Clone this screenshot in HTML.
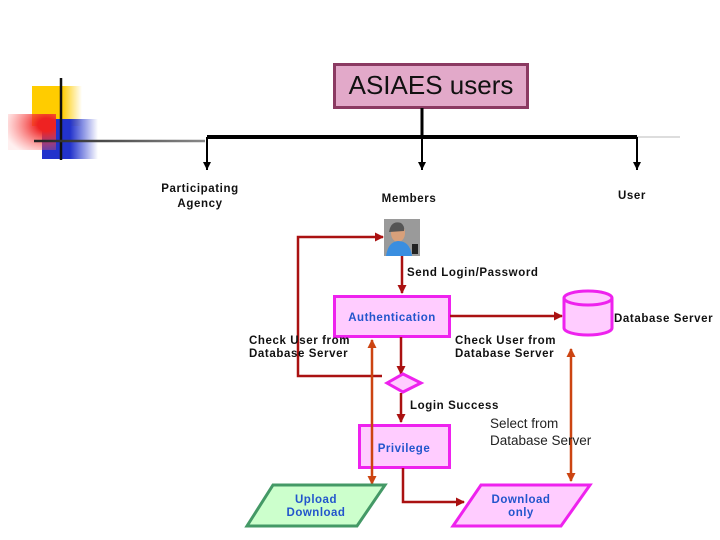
<!DOCTYPE html>
<html><head><style>
body{margin:0;background:#fff}
svg{display:block}
text{font-family:"Liberation Sans",sans-serif}
.l{font-size:11.5px;font-weight:bold;letter-spacing:0.6px;fill:#111}
.b{font-size:11.5px;font-weight:bold;letter-spacing:0.5px;fill:#2255cc}
</style></head><body>
<svg width="720" height="540" viewBox="0 0 720 540">
<defs>
<linearGradient id="gy" x1="0" x2="1"><stop offset="0.6" stop-color="#ffcc00"/><stop offset="1" stop-color="#ffcc00" stop-opacity="0"/></linearGradient>
<linearGradient id="gb" x1="0" x2="1"><stop offset="0.5" stop-color="#2233cc"/><stop offset="1" stop-color="#2233cc" stop-opacity="0"/></linearGradient>
<radialGradient id="gr" cx="0.8" cy="0.3" r="0.9"><stop offset="0.2" stop-color="#ee2222"/><stop offset="1" stop-color="#ff6666" stop-opacity="0.1"/></radialGradient>
<linearGradient id="gl" gradientUnits="userSpaceOnUse" x1="34" y1="0" x2="205" y2="0"><stop offset="0" stop-color="#222"/><stop offset="1" stop-color="#888"/></linearGradient>
<marker id="ar" markerWidth="9" markerHeight="9" refX="8" refY="4.5" orient="auto" markerUnits="userSpaceOnUse"><path d="M0,0 L9,4.5 L0,9z" fill="#aa1111"/></marker>
<marker id="ao" markerWidth="9" markerHeight="9" refX="8" refY="4.5" orient="auto-start-reverse" markerUnits="userSpaceOnUse"><path d="M0,0 L9,4.5 L0,9z" fill="#cc4411"/></marker>
<marker id="bk" markerWidth="8" markerHeight="9" refX="8" refY="4" orient="auto" markerUnits="userSpaceOnUse"><path d="M0,0 L8,4 L0,8z" fill="#000"/></marker>
</defs>
<rect x="32" y="86" width="50" height="40" fill="url(#gy)"/>
<rect x="42" y="119" width="56" height="40" fill="url(#gb)"/>
<rect x="8" y="114" width="48" height="36" fill="url(#gr)"/>
<line x1="61" y1="78" x2="61" y2="160" stroke="#111" stroke-width="2.5"/>
<line x1="34" y1="141" x2="205" y2="141" stroke="url(#gl)" stroke-width="2.5"/>
<rect x="334.5" y="64.5" width="193" height="43" fill="#e2a9c9" stroke="#8b3a62" stroke-width="3"/>
<text x="431" y="94" text-anchor="middle" style="font-size:26px" fill="#111">ASIAES users</text>
<line x1="422" y1="108" x2="422" y2="138" stroke="#000" stroke-width="3"/>
<line x1="207" y1="137" x2="637" y2="137" stroke="#000" stroke-width="4"/>
<line x1="637" y1="137" x2="680" y2="137" stroke="#ddd" stroke-width="2"/>
<g stroke="#000" stroke-width="2" marker-end="url(#bk)">
<line x1="207" y1="137" x2="207" y2="170"/>
<line x1="422" y1="137" x2="422" y2="170"/>
<line x1="637" y1="137" x2="637" y2="170"/>
</g>
<text class="l" x="200" y="192" text-anchor="middle">Participating</text>
<text class="l" x="200" y="207" text-anchor="middle">Agency</text>
<text class="l" x="409" y="202" text-anchor="middle">Members</text>
<text class="l" x="632" y="199" text-anchor="middle">User</text>
<rect x="384" y="219" width="36" height="37" fill="#9a9a9a"/>
<ellipse cx="398" cy="233" rx="7" ry="9" fill="#d8a07a"/>
<path d="M389,232 q2,-12 12,-9 q4,3 3,8z" fill="#555"/>
<path d="M386,256 q2,-14 12,-15 q12,0 14,15z" fill="#3a8ee0"/>
<rect x="412" y="244" width="6" height="10" fill="#222"/>
<polyline points="382,376 298,376 298,237 383,237" fill="none" stroke="#aa1111" stroke-width="2.5" marker-end="url(#ar)"/>
<line x1="402" y1="256" x2="402" y2="293" stroke="#aa1111" stroke-width="2.5" marker-end="url(#ar)"/>
<text class="l" x="407" y="276">Send Login/Password</text>
<rect x="334.5" y="296.5" width="115" height="40" fill="#ffccff" stroke="#ee22ee" stroke-width="3"/>
<text class="b" x="392" y="321" text-anchor="middle">Authentication</text>
<line x1="450" y1="316" x2="562" y2="316" stroke="#aa1111" stroke-width="2.5" marker-end="url(#ar)"/>
<path d="M564,298 L564,328 A24,7 0 0 0 612,328 L612,298" fill="#ffccff" stroke="#ee22ee" stroke-width="3"/>
<ellipse cx="588" cy="298" rx="24" ry="7" fill="#ffccff" stroke="#ee22ee" stroke-width="3"/>
<text class="l" x="614" y="322">Database Server</text>
<text class="l" x="249" y="344">Check User from</text>
<text class="l" x="249" y="357">Database Server</text>
<text class="l" x="455" y="344">Check User from</text>
<text class="l" x="455" y="357">Database Server</text>
<line x1="401" y1="337" x2="401" y2="374" stroke="#aa1111" stroke-width="2.5" marker-end="url(#ar)"/>
<polygon points="387,383 403,374 421,383 403,392" fill="#ffccff" stroke="#ee22ee" stroke-width="3"/>
<line x1="401" y1="393" x2="401" y2="422" stroke="#aa1111" stroke-width="2.5" marker-end="url(#ar)"/>
<text class="l" x="410" y="409">Login Success</text>
<rect x="359.5" y="425.5" width="90" height="42" fill="#ffccff" stroke="#ee22ee" stroke-width="3"/>
<text class="b" x="404" y="452" text-anchor="middle">Privilege</text>
<line x1="372" y1="340" x2="372" y2="484" stroke="#cc4411" stroke-width="2.5" marker-start="url(#ao)" marker-end="url(#ao)"/>
<line x1="571" y1="349" x2="571" y2="481" stroke="#cc4411" stroke-width="2.5" marker-start="url(#ao)" marker-end="url(#ao)"/>
<polyline points="403,468 403,502 464,502" fill="none" stroke="#aa1111" stroke-width="2.5" marker-end="url(#ar)"/>
<text x="490" y="428" style="font-size:13.5px" fill="#222">Select from</text>
<text x="490" y="445" style="font-size:13.5px" fill="#222">Database Server</text>
<polygon points="273,485 385,485 357,526 247,526" fill="#ccffcc" stroke="#449966" stroke-width="3"/>
<text class="b" x="316" y="503" text-anchor="middle">Upload</text>
<text class="b" x="316" y="516" text-anchor="middle">Download</text>
<polygon points="481,485 590,485 561,526 453,526" fill="#ffccff" stroke="#ee22ee" stroke-width="3"/>
<text class="b" x="521" y="503" text-anchor="middle">Download</text>
<text class="b" x="521" y="516" text-anchor="middle">only</text>
</svg>
</body></html>
